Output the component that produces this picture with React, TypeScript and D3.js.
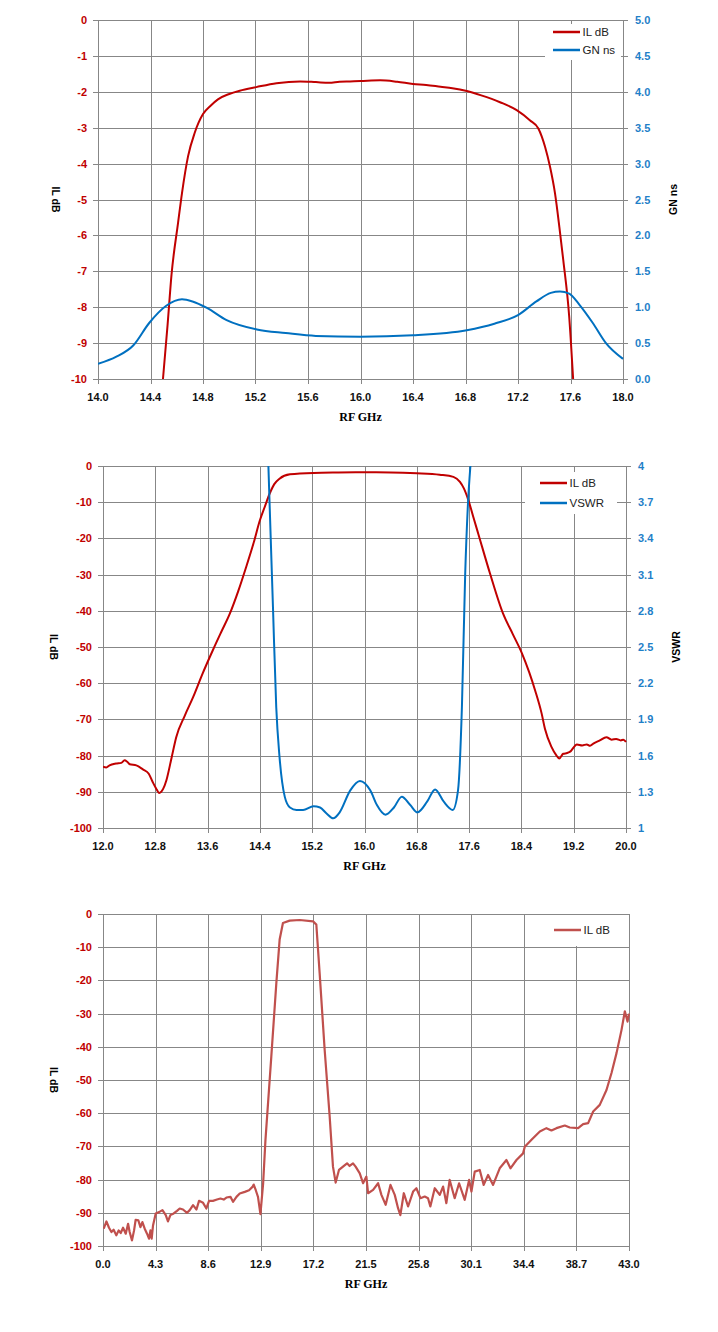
import React, {useEffect, useRef} from 'react';
import * as d3 from 'd3';

// ---- chart 1: passband IL + group delay ----
const c1XTicks = [14.0, 14.4, 14.8, 15.2, 15.6, 16.0, 16.4, 16.8, 17.2, 17.6, 18.0];
const c1LeftTicks = [0, -1, -2, -3, -4, -5, -6, -7, -8, -9, -10];
const c1RightTicks = [0, 0.5, 1.0, 1.5, 2.0, 2.5, 3.0, 3.5, 4.0, 4.5, 5.0];

const c1IlGHz = [14.495, 14.53, 14.56, 14.61, 14.64, 14.686, 14.737, 14.8, 14.86, 14.914, 15.0, 15.08, 15.206, 15.36, 15.54, 15.66, 15.76, 15.84, 15.92, 16.0, 16.15, 16.28, 16.4, 16.5, 16.61, 16.7, 16.81, 16.92, 17.063, 17.19, 17.29, 17.355, 17.406, 17.444, 17.482, 17.515, 17.545, 17.59, 17.62];
const c1IlDb = [-10, -8.5, -7.1, -5.65, -4.82, -3.8, -3.14, -2.62, -2.38, -2.21, -2.06, -1.97, -1.87, -1.76, -1.71, -1.73, -1.75, -1.72, -1.71, -1.70, -1.68, -1.72, -1.78, -1.81, -1.86, -1.9, -1.98, -2.1, -2.29, -2.51, -2.79, -3.02, -3.53, -4.09, -4.83, -5.76, -6.69, -8.26, -10];

const c1GnGHz = [14.0, 14.14, 14.27, 14.39, 14.52, 14.64, 14.72, 14.83, 14.98, 15.21, 15.43, 15.66, 16.0, 16.4, 16.81, 17.02, 17.2, 17.34, 17.45, 17.52, 17.59, 17.67, 17.77, 17.87, 18.0];
const c1GnNs = [0.21, 0.31, 0.47, 0.78, 1.02, 1.11, 1.08, 0.99, 0.82, 0.69, 0.64, 0.60, 0.59, 0.61, 0.68, 0.77, 0.89, 1.08, 1.20, 1.22, 1.19, 1.03, 0.78, 0.50, 0.28];

// ---- chart 2: wideband IL + VSWR ----
const c2XTicks = [12.0, 12.8, 13.6, 14.4, 15.2, 16.0, 16.8, 17.6, 18.4, 19.2, 20.0];
const c2LeftTicks = [0, -10, -20, -30, -40, -50, -60, -70, -80, -90, -100];
const c2RightTicks = [1, 1.3, 1.6, 1.9, 2.2, 2.5, 2.8, 3.1, 3.4, 3.7, 4];
const c2RightLabels = ['1', '1.3', '1.6', '1.9', '2.2', '2.5', '2.8', '3.1', '3.4', '3.7', '4'];

const c2IlGHz = [12.0, 12.05, 12.1, 12.2, 12.28, 12.33, 12.37, 12.41, 12.51, 12.61, 12.7, 12.76, 12.81, 12.86, 12.92, 12.97, 13.05, 13.12, 13.25, 13.38, 13.52, 13.68, 13.81, 13.94, 14.07, 14.19, 14.3, 14.4, 14.48, 14.55, 14.62, 14.7, 14.86, 15.22, 15.6, 16.0, 16.4, 16.8, 17.15, 17.36, 17.46, 17.52, 17.59, 17.66, 17.74, 17.92, 18.12, 18.27, 18.41, 18.52, 18.61, 18.71, 18.76, 18.86, 18.93, 18.98, 19.04, 19.1, 19.14, 19.25, 19.33, 19.4, 19.45, 19.5, 19.6, 19.7, 19.78, 19.85, 19.92, 19.96, 20.0];
const c2IlDb = [-83.1, -83.3, -82.7, -82.2, -82.0, -81.3, -81.7, -82.4, -82.7, -83.8, -85.0, -87.3, -89.0, -90.3, -89.2, -86.8, -80.5, -74.9, -69.0, -63.8, -57.5, -50.9, -45.8, -40.8, -34.5, -27.9, -21.5, -15.0, -11.0, -7.6, -5.0, -3.5, -2.3, -1.9, -1.8, -1.75, -1.78, -2.0, -2.4, -3.0, -4.4, -6.2, -9.5, -13.8, -18.7, -29.7, -40.8, -46.5, -51.8, -57.0, -62.0, -68.4, -72.6, -77.6, -79.8, -80.8, -79.5, -79.3, -79.0, -76.9, -77.2, -76.9, -77.3, -76.7, -75.8, -74.9, -75.6, -75.4, -75.8, -75.6, -76.2];

const c2VsGHz = [14.53, 14.55, 14.6, 14.65, 14.7, 14.78, 14.86, 14.96, 15.06, 15.22, 15.32, 15.42, 15.52, 15.62, 15.78, 15.93, 16.09, 16.19, 16.32, 16.45, 16.57, 16.7, 16.81, 16.96, 17.08, 17.21, 17.35, 17.43, 17.49, 17.54, 17.58, 17.62];
const c2Vswr = [4.0, 3.66, 2.83, 2.0, 1.59, 1.26, 1.17, 1.15, 1.15, 1.18, 1.17, 1.12, 1.08, 1.13, 1.31, 1.39, 1.31, 1.19, 1.11, 1.17, 1.26, 1.19, 1.13, 1.22, 1.32, 1.22, 1.15, 1.31, 2.0, 3.1, 3.66, 4.0];

// ---- chart 3: spurious sweep 0..43 GHz ----
const c3XTicks = [0.0, 4.3, 8.6, 12.9, 17.2, 21.5, 25.8, 30.1, 34.4, 38.7, 43.0];
const c3LeftTicks = [0, -10, -20, -30, -40, -50, -60, -70, -80, -90, -100];

const c3GHz = [0.06, 0.28, 0.49, 0.69, 0.87, 1.09, 1.28, 1.45, 1.64, 1.86, 2.05, 2.18, 2.37, 2.54, 2.67, 2.89, 3.06, 3.22, 3.41, 3.6, 3.76, 3.88, 3.98, 4.09, 4.31, 4.58, 4.86, 5.13, 5.31, 5.51, 5.78, 6.05, 6.27, 6.54, 6.87, 7.09, 7.36, 7.64, 7.85, 8.18, 8.45, 8.67, 8.99, 9.32, 9.6, 9.87, 10.09, 10.42, 10.63, 10.91, 11.18, 11.59, 11.94, 12.22, 12.32, 12.49, 12.67, 12.87, 13.09, 13.28, 13.76, 14.17, 14.44, 14.71, 15.26, 16.08, 17.17, 17.44, 17.71, 18.12, 18.53, 18.8, 19.02, 19.29, 19.62, 19.95, 20.16, 20.44, 20.65, 20.99, 21.26, 21.53, 21.67, 22.08, 22.49, 22.76, 23.11, 23.5, 23.85, 24.12, 24.31, 24.59, 24.94, 25.35, 25.62, 25.95, 26.3, 26.57, 26.76, 27.12, 27.53, 27.8, 28.07, 28.34, 28.75, 29.11, 29.57, 29.93, 30.12, 30.39, 30.8, 31.12, 31.48, 31.89, 32.16, 32.43, 32.98, 33.31, 33.8, 34.34, 34.48, 35.03, 35.71, 36.25, 36.66, 37.07, 37.75, 38.16, 38.84, 39.25, 39.66, 40.07, 40.61, 41.16, 41.57, 41.98, 42.39, 42.66, 42.88, 43.0];
const c3Db = [-94.8, -92.6, -94.5, -95.8, -95.1, -96.8, -95.3, -96.1, -94.5, -96.3, -93.3, -95.8, -98.3, -95.3, -92.1, -92.3, -94.3, -92.8, -94.8, -96.3, -97.8, -95.3, -97.8, -93.8, -90.2, -89.8, -89.2, -90.7, -92.6, -90.7, -90.2, -89.4, -88.7, -89.0, -90.0, -89.2, -87.7, -89.0, -86.4, -87.0, -88.7, -86.4, -86.4, -86.0, -85.7, -86.0, -85.4, -85.2, -86.7, -85.2, -84.2, -83.7, -83.2, -82.2, -81.5, -83.2, -85.2, -90.4, -81.2, -68.1, -42.9, -20.8, -7.7, -2.7, -2.0, -1.8, -2.2, -3.2, -17.8, -40.9, -61.0, -76.1, -80.9, -77.1, -76.1, -75.1, -75.9, -75.1, -76.1, -78.1, -81.1, -79.1, -84.1, -83.1, -81.1, -84.6, -87.6, -81.6, -84.6, -88.6, -90.7, -84.1, -88.1, -83.6, -82.6, -85.6, -85.1, -85.6, -88.1, -82.6, -84.6, -82.1, -87.1, -80.1, -85.6, -81.1, -86.1, -80.1, -83.6, -77.6, -77.1, -81.6, -78.6, -81.6, -79.1, -76.6, -74.1, -76.6, -74.1, -72.1, -70.1, -68.0, -65.5, -64.5, -65.2, -64.5, -63.7, -64.3, -64.5, -63.3, -63.0, -59.5, -57.5, -53.0, -47.9, -41.9, -34.9, -29.3, -32.4, -30.0];

const RED = '#C00000';
const BLUE = '#0070C0';
const GRID = '#878787';

interface ISeries {
    x: number[];
    y: number[];
    right?: boolean;
    color: string;
    width: number;
    smooth: boolean;
    name: string;
}

interface IChart {
    left: number; right: number; top: number; bottom: number;
    xTicks: number[];
    yTicks: number[];
    y2Ticks?: number[];
    y2Labels?: string[];
    y2Title?: string;
    y2Color?: string;
    series: ISeries[];
    legend: {x0: number, y0: number, x1: number, y1: number, lineX: number, rows: number[]};
}

const charts: IChart[] = [
    {
        left: 98, right: 623, top: 20, bottom: 379,
        xTicks: c1XTicks, yTicks: c1LeftTicks,
        y2Ticks: c1RightTicks, y2Labels: c1RightTicks.map(d => d.toFixed(1)), y2Title: 'GN ns', y2Color: '#1F80C8',
        series: [
            {x: c1IlGHz, y: c1IlDb, color: RED, width: 2, smooth: true, name: 'IL dB'},
            {x: c1GnGHz, y: c1GnNs, right: true, color: BLUE, width: 2, smooth: true, name: 'GN ns'},
        ],
        legend: {x0: 545, y0: 24, x1: 621, y1: 60, lineX: 553, rows: [32, 50]},
    },
    {
        left: 103, right: 626, top: 466, bottom: 828,
        xTicks: c2XTicks, yTicks: c2LeftTicks,
        y2Ticks: c2RightTicks, y2Labels: c2RightLabels, y2Title: 'VSWR', y2Color: '#1F80C8',
        series: [
            {x: c2IlGHz, y: c2IlDb, color: RED, width: 2, smooth: true, name: 'IL dB'},
            {x: c2VsGHz, y: c2Vswr, right: true, color: BLUE, width: 2, smooth: true, name: 'VSWR'},
        ],
        legend: {x0: 525, y0: 472, x1: 617, y1: 514, lineX: 540, rows: [483, 503]},
    },
    {
        left: 103, right: 629, top: 914, bottom: 1246,
        xTicks: c3XTicks, yTicks: c3LeftTicks,
        series: [
            {x: c3GHz, y: c3Db, color: '#C0504D', width: 2.2, smooth: false, name: 'IL dB'},
        ],
        legend: {x0: 545, y0: 915, x1: 627, y1: 946, lineX: 554, rows: [930]},
    },
];

function drawChart(svg: any, c: IChart, idx: number) {
    const g = svg.append('g');
    const xScale = d3.scaleLinear()
        .domain([c.xTicks[0], c.xTicks[c.xTicks.length - 1]])
        .range([c.left, c.right]);
    const yScale = d3.scaleLinear()
        .domain([c.yTicks[c.yTicks.length - 1], c.yTicks[0]])
        .range([c.bottom, c.top]);
    let y2Scale: any = null;
    if (c.y2Ticks) {
        y2Scale = d3.scaleLinear()
            .domain([c.y2Ticks[0], c.y2Ticks[c.y2Ticks.length - 1]])
            .range([c.bottom, c.top]);
    }
    const px = (v: number) => Math.round(v) + 0.5;

    //grid
    c.xTicks.forEach(t => {
        g.append('line')
            .attr('x1', px(xScale(t))).attr('x2', px(xScale(t)))
            .attr('y1', c.top).attr('y2', c.bottom + 5)
            .attr('stroke', GRID).attr('stroke-width', 1);
    });
    c.yTicks.forEach(t => {
        g.append('line')
            .attr('x1', c.left - 5).attr('x2', c.y2Ticks ? c.right + 5 : c.right)
            .attr('y1', px(yScale(t))).attr('y2', px(yScale(t)))
            .attr('stroke', GRID).attr('stroke-width', 1);
    });

    //legend background covers grid
    const lg = c.legend;
    g.append('rect')
        .attr('x', lg.x0).attr('y', lg.y0)
        .attr('width', lg.x1 - lg.x0).attr('height', lg.y1 - lg.y0)
        .attr('fill', 'white');
    // frame edges back on top
    g.append('line').attr('x1', px(c.right)).attr('x2', px(c.right)).attr('y1', c.top).attr('y2', c.bottom)
        .attr('stroke', GRID);
    g.append('line').attr('x1', c.left).attr('x2', c.right).attr('y1', px(c.top)).attr('y2', px(c.top))
        .attr('stroke', GRID);

    //tick labels
    c.yTicks.forEach(t => {
        g.append('text')
            .attr('x', c.left - 11).attr('y', yScale(t) + 4)
            .attr('text-anchor', 'end')
            .attr('font-family', 'Liberation Sans, Arial, sans-serif')
            .attr('font-weight', 'bold').attr('font-size', 11)
            .attr('fill', RED)
            .text(String(t));
    });
    c.xTicks.forEach(t => {
        g.append('text')
            .attr('x', xScale(t)).attr('y', c.bottom + 22)
            .attr('text-anchor', 'middle')
            .attr('font-family', 'Liberation Sans, Arial, sans-serif')
            .attr('font-weight', 'bold').attr('font-size', 11)
            .attr('fill', '#111')
            .text(t.toFixed(1));
    });
    if (c.y2Ticks && y2Scale) {
        c.y2Ticks.forEach((t, i) => {
            g.append('text')
                .attr('x', c.right + 12).attr('y', y2Scale(t) + 4)
                .attr('font-family', 'Liberation Sans, Arial, sans-serif')
                .attr('font-weight', 'bold').attr('font-size', 11)
                .attr('fill', c.y2Color)
                .text(c.y2Labels![i]);
        });
        g.append('text')
            .attr('transform', `translate(${c.right + 50},${(c.top + c.bottom) / 2}) rotate(-90)`)
            .attr('text-anchor', 'middle').attr('dy', 4)
            .attr('font-family', 'Liberation Sans, Arial, sans-serif')
            .attr('font-weight', 'bold').attr('font-size', 10.5)
            .attr('fill', '#000')
            .text(c.y2Title);
    }

    //axis titles
    g.append('text')
        .attr('transform', `translate(${idx === 0 ? 56 : 54},${(c.top + c.bottom) / 2}) rotate(90)`)
        .attr('text-anchor', 'middle').attr('dy', 4)
        .attr('font-family', 'Liberation Sans, Arial, sans-serif')
        .attr('font-weight', 'bold').attr('font-size', 10.5)
        .attr('fill', '#000')
        .text('IL dB');
    g.append('text')
        .attr('x', (c.left + c.right) / 2).attr('y', c.bottom + 42)
        .attr('text-anchor', 'middle')
        .attr('font-family', 'Liberation Serif, Times New Roman, serif')
        .attr('font-weight', 'bold').attr('font-size', 12)
        .attr('fill', '#000')
        .text('RF GHz');

    //series, clipped to plot
    const clipId = 'clip' + idx;
    svg.append('clipPath').attr('id', clipId)
        .append('rect')
        .attr('x', c.left).attr('y', c.top - 1)
        .attr('width', c.right - c.left + 1).attr('height', c.bottom - c.top + 2);
    const sg = svg.append('g').attr('clip-path', `url(#${clipId})`);
    c.series.forEach(s => {
        const ys = s.right ? y2Scale : yScale;
        const pts: [number, number][] = s.x.map((x, i) => [x, s.y[i]]);
        const line = d3.line<[number, number]>()
            .x(d => xScale(d[0]))
            .y(d => ys(d[1]))
            .curve(s.smooth ? d3.curveMonotoneX : d3.curveLinear);
        sg.append('path')
            .attr('d', line(pts))
            .attr('fill', 'none')
            .attr('stroke', s.color)
            .attr('stroke-width', s.width)
            .attr('stroke-linejoin', 'round');
    });

    //legend entries
    c.series.forEach((s, i) => {
        g.append('line')
            .attr('x1', lg.lineX).attr('x2', lg.lineX + 27)
            .attr('y1', lg.rows[i]).attr('y2', lg.rows[i])
            .attr('stroke', s.color).attr('stroke-width', 2.5);
        g.append('text')
            .attr('x', lg.lineX + 29.5).attr('y', lg.rows[i] + 4)
            .attr('font-family', 'Liberation Sans, Arial, sans-serif')
            .attr('font-size', 11.5)
            .attr('fill', '#222')
            .text(s.name);
    });
}

export default function App() {
    const ref = useRef<SVGSVGElement>(null);

    useEffect(() => {
        const svg = d3.select(ref.current);
        svg.selectAll('*').remove();
        charts.forEach((c, i) => drawChart(svg, c, i));
    }, []);

    return (
        <div style={{position: 'absolute', left: 0, top: 0}}>
            <svg ref={ref} width={718} height={1332} style={{display: 'block', background: 'white'}}/>
        </div>
    );
}
